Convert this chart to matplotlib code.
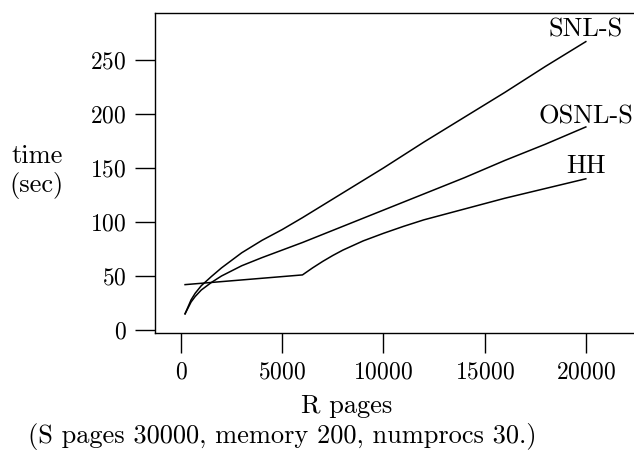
import matplotlib
matplotlib.use("Agg")
import matplotlib.pyplot as plt

# R pages vs time (sec)
snl_r = [200, 500, 700, 1000, 1500, 2000, 3000, 4000, 5000, 6000, 8000, 10000,
         12000, 14000, 16000, 18000, 20000]
snl_t = [15, 28, 34, 41, 49.5, 57.5, 71.5, 83, 93, 104, 127, 150, 174, 197, 220, 244, 267]

osnl_r = [200, 500, 700, 1000, 1500, 2000, 3000, 4000, 5000, 6000, 8000, 10000,
          12000, 14000, 16000, 18000, 20000]
osnl_t = [15, 26, 31, 37, 44, 50, 59.5, 67, 74, 81, 96, 111, 126, 141, 157, 172, 188]

hh_r = [200, 6000, 6500, 7000, 7500, 8000, 9000, 10000, 11000, 12000, 14000,
        16000, 18000, 20000]
hh_t = [42, 51, 57.5, 63.5, 69, 74, 82.5, 89.5, 96, 102, 112, 122, 131, 140]

labels = ["SNL-S", "OSNL-S", "HH"]
label_pos = [(20000, 278), (20000, 198), (20000, 152)]
xticks = [0, 5000, 10000, 15000, 20000]
yticks = [0, 50, 100, 150, 200, 250]

plt.rcParams["font.family"] = "cmr10"
plt.rcParams["axes.formatter.use_mathtext"] = True
FS = 19
TICK_FS = 17

fig = plt.figure(figsize=(6.34, 4.57), dpi=100)
ax = fig.add_axes([155 / 634, 1 - 332.7 / 457, 479 / 634, (332.7 - 13) / 457])

for r, t in [(snl_r, snl_t), (osnl_r, osnl_t), (hh_r, hh_t)]:
    ax.plot(r, t, color="black", linewidth=1.1)

for lab, (x, y) in zip(labels, label_pos):
    ax.text(x, y, lab, fontsize=FS, ha="center", va="center")

ax.set_xlim(-1285, 22380)
ax.set_ylim(-2.5, 293.5)
ax.set_xticks(xticks)
ax.set_yticks(yticks)
ax.tick_params(axis="both", direction="out", length=14.4, width=1.0,
               labelsize=TICK_FS, pad=6)
ax.spines["right"].set_visible(False)
for s in ["left", "top", "bottom"]:
    ax.spines[s].set_linewidth(1.0)

fig.text(37 / 634, 1 - 172 / 457, "time\n(sec)", fontsize=FS, ha="center",
         va="center", linespacing=1.2)
fig.text(347 / 634, 1 - 406 / 457, "R pages", fontsize=FS, ha="center", va="center")
fig.text(282 / 634, 1 - 437 / 457, "(S pages 30000, memory 200, numprocs 30.)",
         fontsize=FS, ha="center", va="center")

fig.savefig("out.png", dpi=100)
